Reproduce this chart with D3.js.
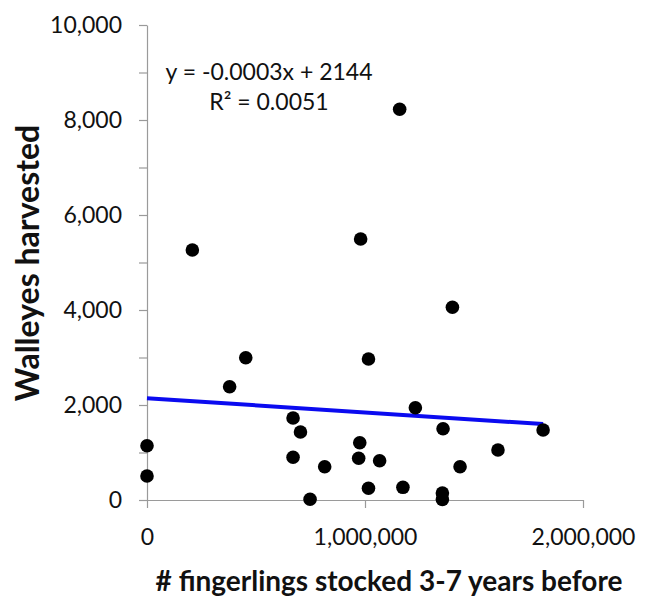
<!DOCTYPE html>
<html>
<head>
<meta charset="utf-8">
<script src="https://cdn.jsdelivr.net/npm/d3@7"></script>
<style>
  body { margin: 0; background: #fff; }
  .axis path, .axis line { stroke: #9a9a9a; stroke-width: 1.2; }
  .axis text { font-family: Lato, sans-serif; font-size: 23px; fill: #111; }
  .title { font-family: Lato, sans-serif; font-weight: bold; fill: #111; }
  .eq { font-family: Lato, sans-serif; font-size: 23px; fill: #111; }
</style>
</head>
<body>
<div id="chart"></div>
<script>
(function() {
  // DATA
  var fingerlings = [208000, 453000, 379000, 0, 0, 670000, 704000, 670000, 815000, 748000,
                     980000, 1401000, 1016000, 1231000, 1358000, 1817000, 976000, 971000, 1067000,
                     1610000, 1436000, 1016000, 1174000, 1355000, 1355000, 1159000];
  var harvested = [5263, 2996, 2385, 1143, 505, 1726, 1432, 899, 701, 15,
                   5495, 4057, 2968, 1943, 1501, 1474, 1206, 878, 827,
                   1053, 701, 246, 267, 147, 10, 8225];
  var xTicks = [0, 1000000, 2000000];
  var yTicks = [0, 1000, 2000, 3000, 4000, 5000, 6000, 7000, 8000, 9000, 10000];
  var trendSlope = -0.0003, trendIntercept = 2144;
  var trendLabels = ["y = -0.0003x + 2144", "R\u00b2 = 0.0051"];

  var margin = {top: 25, right: 62, bottom: 103, left: 147},
      width = 645 - margin.left - margin.right,
      height = 603 - margin.top - margin.bottom;

  var svg = d3.select("#chart")
        .append("svg")
        .attr("width", 645)
        .attr("height", 603)
        .append("g")
        .attr("transform", "translate(" + margin.left + "," + margin.top + ")");

  var x = d3.scaleLinear().domain([0, 2000000]).range([0, width]);
  var y = d3.scaleLinear().domain([0, 10000]).range([height, 0]);

  var fmt = d3.format(",");

  // AXES
  svg.append("g")
    .attr("class", "axis y-axis")
    .call(d3.axisLeft(y)
      .tickValues(yTicks)
      .tickSize(8)
      .tickSizeOuter(0)
      .tickPadding(17)
      .tickFormat(function(d) { return d % 2000 === 0 ? fmt(d) : ""; }));

  svg.append("g")
    .attr("class", "axis x-axis")
    .attr("transform", "translate(0," + height + ")")
    .call(d3.axisBottom(x)
      .tickValues(xTicks)
      .tickSize(8)
      .tickSizeOuter(0)
      .tickPadding(21)
      .tickFormat(fmt));

  // trendline
  var maxX = d3.max(fingerlings);
  svg.append("line")
    .attr("x1", x(0))
    .attr("y1", y(trendIntercept))
    .attr("x2", x(maxX))
    .attr("y2", y(trendSlope * maxX + trendIntercept))
    .attr("stroke", "#0b0bf0")
    .attr("stroke-width", 4);

  // points
  svg.selectAll("circle")
    .data(fingerlings)
    .enter().append("circle")
    .attr("cx", function(d) { return x(d); })
    .attr("cy", function(d, i) { return y(harvested[i]); })
    .attr("r", 6.8)
    .attr("fill", "#000");

  // equation
  svg.selectAll(".eq")
    .data(trendLabels)
    .enter().append("text")
    .attr("class", "eq")
    .attr("text-anchor", "middle")
    .attr("x", 122)
    .attr("y", function(d, i) { return 55 + i * 30; })
    .text(function(d) { return d; });

  // axis titles
  svg.append("text")
    .attr("class", "title")
    .attr("text-anchor", "middle")
    .attr("font-size", 28)
    .attr("x", 242)
    .attr("y", 566)
    .text("# fingerlings stocked 3-7 years before");

  svg.append("text")
    .attr("class", "title")
    .attr("text-anchor", "middle")
    .attr("font-size", 32)
    .attr("transform", "translate(-108," + 238 + ") rotate(-90)")
    .text("Walleyes harvested");
})();
</script>
</body>
</html>
